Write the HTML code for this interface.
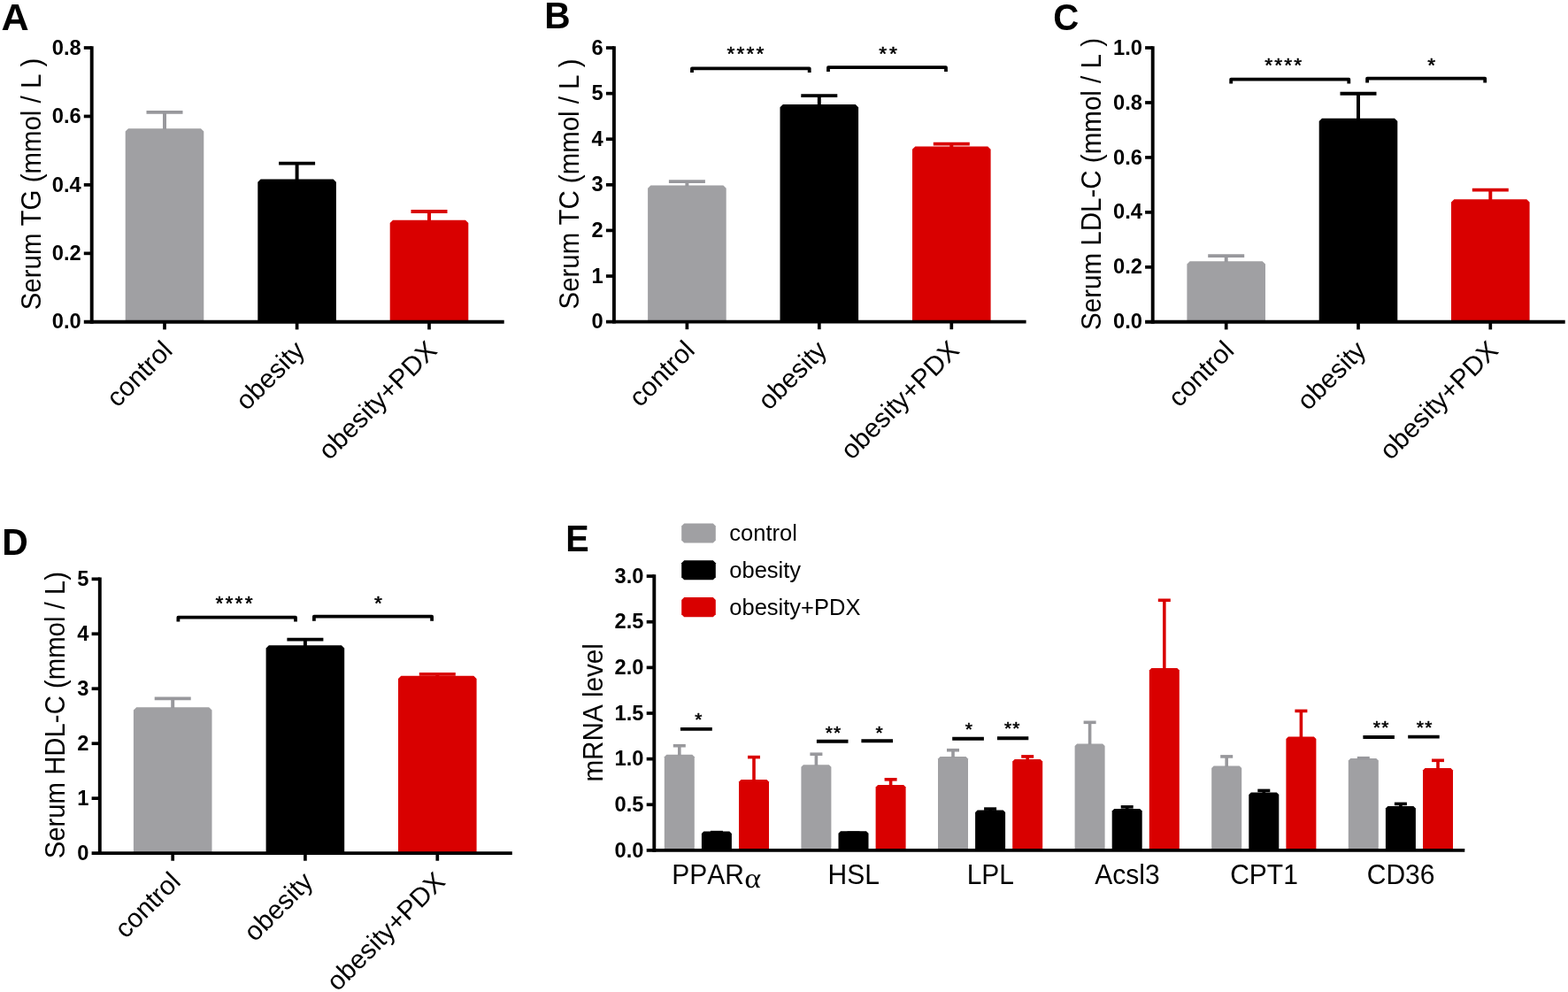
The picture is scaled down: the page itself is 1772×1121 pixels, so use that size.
<!DOCTYPE html>
<html><head><meta charset="utf-8"><title>Figure</title><style>html,body{margin:0;padding:0;background:#fff;overflow:hidden;}svg{display:block;}text{font-kerning:none;}</style></head><body>
<svg width="1772" height="1121" viewBox="0 0 1772 1121">
<rect width="1772" height="1121" fill="#fff"/>
<text transform="translate(1.4,34.4)" font-size="43.2" font-weight="bold" text-anchor="start" font-family="'Liberation Sans', Arial, Helvetica, sans-serif">A</text>
<text transform="translate(615.24,31.9) scale(0.96,1)" font-size="42.3" font-weight="bold" text-anchor="start" font-family="'Liberation Sans', Arial, Helvetica, sans-serif">B</text>
<text transform="translate(1190.19,34.3) scale(0.94,1)" font-size="42.8" font-weight="bold" text-anchor="start" font-family="'Liberation Sans', Arial, Helvetica, sans-serif">C</text>
<text transform="translate(2.33,627.1) scale(0.97,1)" font-size="42.2" font-weight="bold" text-anchor="start" font-family="'Liberation Sans', Arial, Helvetica, sans-serif">D</text>
<text transform="translate(639.23,622.5) scale(0.93,1)" font-size="42.6" font-weight="bold" text-anchor="start" font-family="'Liberation Sans', Arial, Helvetica, sans-serif">E</text>
<path d="M141.7,363.8 V148.5 L145,145.2 H227 L230.3,148.5 V363.8 Z" fill="#a0a0a3"/>
<line x1="186" y1="146.2" x2="186" y2="126.85" stroke="#98989c" stroke-width="3.95" stroke-linecap="butt"/>
<line x1="165.5" y1="126.85" x2="206.5" y2="126.85" stroke="#98989c" stroke-width="3.8" stroke-linecap="butt"/>
<path d="M291.3,363.8 V205.8 L294.6,202.5 H376.6 L379.9,205.8 V363.8 Z" fill="#000"/>
<line x1="335.6" y1="203.5" x2="335.6" y2="184.55" stroke="#000" stroke-width="3.95" stroke-linecap="butt"/>
<line x1="315.1" y1="184.55" x2="356.1" y2="184.55" stroke="#000" stroke-width="3.8" stroke-linecap="butt"/>
<path d="M440.7,363.8 V252 L444,248.7 H526 L529.3,252 V363.8 Z" fill="#d90000"/>
<line x1="485" y1="249.7" x2="485" y2="239" stroke="#d90000" stroke-width="3.95" stroke-linecap="butt"/>
<line x1="464.5" y1="239" x2="505.5" y2="239" stroke="#d90000" stroke-width="3.8" stroke-linecap="butt"/>
<line x1="103.7" y1="52.15" x2="103.7" y2="365.75" stroke="#000" stroke-width="3.9" stroke-linecap="butt"/>
<line x1="94.8" y1="363.8" x2="569.7" y2="363.8" stroke="#000" stroke-width="3.9" stroke-linecap="butt"/>
<text x="91.65" y="371.4" font-size="23.7" font-weight="bold" text-anchor="end" font-family="'Liberation Sans', Arial, Helvetica, sans-serif" >0.0</text>
<line x1="94.8" y1="286.35" x2="103.7" y2="286.35" stroke="#000" stroke-width="3.7" stroke-linecap="butt"/>
<text x="91.65" y="293.95" font-size="23.7" font-weight="bold" text-anchor="end" font-family="'Liberation Sans', Arial, Helvetica, sans-serif" >0.2</text>
<line x1="94.8" y1="208.9" x2="103.7" y2="208.9" stroke="#000" stroke-width="3.7" stroke-linecap="butt"/>
<text x="91.65" y="216.5" font-size="23.7" font-weight="bold" text-anchor="end" font-family="'Liberation Sans', Arial, Helvetica, sans-serif" >0.4</text>
<line x1="94.8" y1="131.45" x2="103.7" y2="131.45" stroke="#000" stroke-width="3.7" stroke-linecap="butt"/>
<text x="91.65" y="139.05" font-size="23.7" font-weight="bold" text-anchor="end" font-family="'Liberation Sans', Arial, Helvetica, sans-serif" >0.6</text>
<line x1="94.8" y1="54" x2="103.7" y2="54" stroke="#000" stroke-width="3.7" stroke-linecap="butt"/>
<text x="91.65" y="61.6" font-size="23.7" font-weight="bold" text-anchor="end" font-family="'Liberation Sans', Arial, Helvetica, sans-serif" >0.8</text>
<line x1="186" y1="363.8" x2="186" y2="372.4" stroke="#000" stroke-width="3.7" stroke-linecap="butt"/>
<line x1="335.6" y1="363.8" x2="335.6" y2="372.4" stroke="#000" stroke-width="3.7" stroke-linecap="butt"/>
<line x1="485" y1="363.8" x2="485" y2="372.4" stroke="#000" stroke-width="3.7" stroke-linecap="butt"/>
<text transform="translate(196.4,397.8) rotate(-45)" font-size="30" font-weight="normal" text-anchor="end" font-family="'Liberation Sans', Arial, Helvetica, sans-serif">control</text>
<text transform="translate(346,397.8) rotate(-45)" font-size="30" font-weight="normal" text-anchor="end" font-family="'Liberation Sans', Arial, Helvetica, sans-serif">obesity</text>
<text transform="translate(495.4,397.8) rotate(-45)" font-size="30" font-weight="normal" text-anchor="end" font-family="'Liberation Sans', Arial, Helvetica, sans-serif">obesity+PDX</text>
<text transform="translate(46.4,208) rotate(-90) scale(1,1.07)" font-size="29.45" font-weight="normal" text-anchor="middle" font-family="'Liberation Sans', Arial, Helvetica, sans-serif">Serum TG (mmol / L )</text>
<path d="M732.1,363.6 V212.8 L735.4,209.5 H817.4 L820.7,212.8 V363.6 Z" fill="#a0a0a3"/>
<line x1="776.4" y1="210.5" x2="776.4" y2="205.05" stroke="#98989c" stroke-width="3.95" stroke-linecap="butt"/>
<line x1="755.9" y1="205.05" x2="796.9" y2="205.05" stroke="#98989c" stroke-width="3.8" stroke-linecap="butt"/>
<path d="M881.5,363.6 V121.3 L884.8,118 H966.8 L970.1,121.3 V363.6 Z" fill="#000"/>
<line x1="925.8" y1="119" x2="925.8" y2="108.1" stroke="#000" stroke-width="3.95" stroke-linecap="butt"/>
<line x1="905.3" y1="108.1" x2="946.3" y2="108.1" stroke="#000" stroke-width="3.8" stroke-linecap="butt"/>
<path d="M1031,363.6 V168.8 L1034.3,165.5 H1116.3 L1119.6,168.8 V363.6 Z" fill="#d90000"/>
<line x1="1075.3" y1="166.5" x2="1075.3" y2="162.6" stroke="#d90000" stroke-width="3.95" stroke-linecap="butt"/>
<line x1="1054.8" y1="162.6" x2="1095.8" y2="162.6" stroke="#d90000" stroke-width="3.8" stroke-linecap="butt"/>
<line x1="693.9" y1="52.2" x2="693.9" y2="365.55" stroke="#000" stroke-width="3.9" stroke-linecap="butt"/>
<line x1="684.9" y1="363.6" x2="1159.6" y2="363.6" stroke="#000" stroke-width="3.9" stroke-linecap="butt"/>
<text x="681.75" y="371.2" font-size="23.7" font-weight="bold" text-anchor="end" font-family="'Liberation Sans', Arial, Helvetica, sans-serif" >0</text>
<line x1="684.9" y1="312.01" x2="693.9" y2="312.01" stroke="#000" stroke-width="3.7" stroke-linecap="butt"/>
<text x="681.75" y="319.61" font-size="23.7" font-weight="bold" text-anchor="end" font-family="'Liberation Sans', Arial, Helvetica, sans-serif" >1</text>
<line x1="684.9" y1="260.42" x2="693.9" y2="260.42" stroke="#000" stroke-width="3.7" stroke-linecap="butt"/>
<text x="681.75" y="268.02" font-size="23.7" font-weight="bold" text-anchor="end" font-family="'Liberation Sans', Arial, Helvetica, sans-serif" >2</text>
<line x1="684.9" y1="208.83" x2="693.9" y2="208.83" stroke="#000" stroke-width="3.7" stroke-linecap="butt"/>
<text x="681.75" y="216.43" font-size="23.7" font-weight="bold" text-anchor="end" font-family="'Liberation Sans', Arial, Helvetica, sans-serif" >3</text>
<line x1="684.9" y1="157.23" x2="693.9" y2="157.23" stroke="#000" stroke-width="3.7" stroke-linecap="butt"/>
<text x="681.75" y="164.83" font-size="23.7" font-weight="bold" text-anchor="end" font-family="'Liberation Sans', Arial, Helvetica, sans-serif" >4</text>
<line x1="684.9" y1="105.64" x2="693.9" y2="105.64" stroke="#000" stroke-width="3.7" stroke-linecap="butt"/>
<text x="681.75" y="113.24" font-size="23.7" font-weight="bold" text-anchor="end" font-family="'Liberation Sans', Arial, Helvetica, sans-serif" >5</text>
<line x1="684.9" y1="54.05" x2="693.9" y2="54.05" stroke="#000" stroke-width="3.7" stroke-linecap="butt"/>
<text x="681.75" y="61.65" font-size="23.7" font-weight="bold" text-anchor="end" font-family="'Liberation Sans', Arial, Helvetica, sans-serif" >6</text>
<line x1="776.4" y1="363.6" x2="776.4" y2="372.2" stroke="#000" stroke-width="3.7" stroke-linecap="butt"/>
<line x1="925.8" y1="363.6" x2="925.8" y2="372.2" stroke="#000" stroke-width="3.7" stroke-linecap="butt"/>
<line x1="1075.3" y1="363.6" x2="1075.3" y2="372.2" stroke="#000" stroke-width="3.7" stroke-linecap="butt"/>
<text transform="translate(786.8,397.6) rotate(-45)" font-size="30" font-weight="normal" text-anchor="end" font-family="'Liberation Sans', Arial, Helvetica, sans-serif">control</text>
<text transform="translate(936.2,397.6) rotate(-45)" font-size="30" font-weight="normal" text-anchor="end" font-family="'Liberation Sans', Arial, Helvetica, sans-serif">obesity</text>
<text transform="translate(1085.7,397.6) rotate(-45)" font-size="30" font-weight="normal" text-anchor="end" font-family="'Liberation Sans', Arial, Helvetica, sans-serif">obesity+PDX</text>
<text transform="translate(654.4,208) rotate(-90) scale(1,1.07)" font-size="29.45" font-weight="normal" text-anchor="middle" font-family="'Liberation Sans', Arial, Helvetica, sans-serif">Serum TC (mmol / L )</text>
<path d="M782,82.1 V77.35 H914.7 V82.1" fill="none" stroke="#000" stroke-width="3.8" stroke-linejoin="round"/>
<path d="M936,80.9 V76.15 H1069 V80.9" fill="none" stroke="#000" stroke-width="3.8" stroke-linejoin="round"/>
<text x="825.85" y="68.32" font-size="22.9" font-weight="normal" text-anchor="middle" font-family="'Liberation Sans', Arial, Helvetica, sans-serif" stroke="#000" stroke-width="0.55" stroke-linejoin="round">*</text>
<text x="836.92" y="68.32" font-size="22.9" font-weight="normal" text-anchor="middle" font-family="'Liberation Sans', Arial, Helvetica, sans-serif" stroke="#000" stroke-width="0.55" stroke-linejoin="round">*</text>
<text x="847.99" y="68.32" font-size="22.9" font-weight="normal" text-anchor="middle" font-family="'Liberation Sans', Arial, Helvetica, sans-serif" stroke="#000" stroke-width="0.55" stroke-linejoin="round">*</text>
<text x="859.06" y="68.32" font-size="22.9" font-weight="normal" text-anchor="middle" font-family="'Liberation Sans', Arial, Helvetica, sans-serif" stroke="#000" stroke-width="0.55" stroke-linejoin="round">*</text>
<text x="997.7" y="68.22" font-size="22.9" font-weight="normal" text-anchor="middle" font-family="'Liberation Sans', Arial, Helvetica, sans-serif" stroke="#000" stroke-width="0.55" stroke-linejoin="round">*</text>
<text x="1009.35" y="68.22" font-size="22.9" font-weight="normal" text-anchor="middle" font-family="'Liberation Sans', Arial, Helvetica, sans-serif" stroke="#000" stroke-width="0.55" stroke-linejoin="round">*</text>
<path d="M1341.4,363.8 V298.5 L1344.7,295.2 H1426.7 L1430,298.5 V363.8 Z" fill="#a0a0a3"/>
<line x1="1385.7" y1="296.2" x2="1385.7" y2="289.2" stroke="#98989c" stroke-width="3.95" stroke-linecap="butt"/>
<line x1="1365.2" y1="289.2" x2="1406.2" y2="289.2" stroke="#98989c" stroke-width="3.8" stroke-linecap="butt"/>
<path d="M1490.7,363.8 V137 L1494,133.7 H1576 L1579.3,137 V363.8 Z" fill="#000"/>
<line x1="1535" y1="134.7" x2="1535" y2="105.75" stroke="#000" stroke-width="3.95" stroke-linecap="butt"/>
<line x1="1514.5" y1="105.75" x2="1555.5" y2="105.75" stroke="#000" stroke-width="3.8" stroke-linecap="butt"/>
<path d="M1640,363.8 V228.5 L1643.3,225.2 H1725.3 L1728.6,228.5 V363.8 Z" fill="#d90000"/>
<line x1="1684.3" y1="226.2" x2="1684.3" y2="214.6" stroke="#d90000" stroke-width="3.95" stroke-linecap="butt"/>
<line x1="1663.8" y1="214.6" x2="1704.8" y2="214.6" stroke="#d90000" stroke-width="3.8" stroke-linecap="butt"/>
<line x1="1302.7" y1="52.15" x2="1302.7" y2="365.75" stroke="#000" stroke-width="3.9" stroke-linecap="butt"/>
<line x1="1294.1" y1="363.8" x2="1768.7" y2="363.8" stroke="#000" stroke-width="3.9" stroke-linecap="butt"/>
<text x="1290.95" y="371.4" font-size="23.7" font-weight="bold" text-anchor="end" font-family="'Liberation Sans', Arial, Helvetica, sans-serif" >0.0</text>
<line x1="1294.1" y1="301.84" x2="1302.7" y2="301.84" stroke="#000" stroke-width="3.7" stroke-linecap="butt"/>
<text x="1290.95" y="309.44" font-size="23.7" font-weight="bold" text-anchor="end" font-family="'Liberation Sans', Arial, Helvetica, sans-serif" >0.2</text>
<line x1="1294.1" y1="239.88" x2="1302.7" y2="239.88" stroke="#000" stroke-width="3.7" stroke-linecap="butt"/>
<text x="1290.95" y="247.48" font-size="23.7" font-weight="bold" text-anchor="end" font-family="'Liberation Sans', Arial, Helvetica, sans-serif" >0.4</text>
<line x1="1294.1" y1="177.92" x2="1302.7" y2="177.92" stroke="#000" stroke-width="3.7" stroke-linecap="butt"/>
<text x="1290.95" y="185.52" font-size="23.7" font-weight="bold" text-anchor="end" font-family="'Liberation Sans', Arial, Helvetica, sans-serif" >0.6</text>
<line x1="1294.1" y1="115.96" x2="1302.7" y2="115.96" stroke="#000" stroke-width="3.7" stroke-linecap="butt"/>
<text x="1290.95" y="123.56" font-size="23.7" font-weight="bold" text-anchor="end" font-family="'Liberation Sans', Arial, Helvetica, sans-serif" >0.8</text>
<line x1="1294.1" y1="54" x2="1302.7" y2="54" stroke="#000" stroke-width="3.7" stroke-linecap="butt"/>
<text x="1290.95" y="61.6" font-size="23.7" font-weight="bold" text-anchor="end" font-family="'Liberation Sans', Arial, Helvetica, sans-serif" >1.0</text>
<line x1="1385.7" y1="363.8" x2="1385.7" y2="372.4" stroke="#000" stroke-width="3.7" stroke-linecap="butt"/>
<line x1="1535" y1="363.8" x2="1535" y2="372.4" stroke="#000" stroke-width="3.7" stroke-linecap="butt"/>
<line x1="1684.3" y1="363.8" x2="1684.3" y2="372.4" stroke="#000" stroke-width="3.7" stroke-linecap="butt"/>
<text transform="translate(1396.1,397.8) rotate(-45)" font-size="30" font-weight="normal" text-anchor="end" font-family="'Liberation Sans', Arial, Helvetica, sans-serif">control</text>
<text transform="translate(1545.4,397.8) rotate(-45)" font-size="30" font-weight="normal" text-anchor="end" font-family="'Liberation Sans', Arial, Helvetica, sans-serif">obesity</text>
<text transform="translate(1694.7,397.8) rotate(-45)" font-size="30" font-weight="normal" text-anchor="end" font-family="'Liberation Sans', Arial, Helvetica, sans-serif">obesity+PDX</text>
<text transform="translate(1243.8,208) rotate(-90) scale(1,1.07)" font-size="29.55" font-weight="normal" text-anchor="middle" font-family="'Liberation Sans', Arial, Helvetica, sans-serif">Serum LDL-C (mmol / L )</text>
<path d="M1391.2,94.6 V89.6 H1524.3 V94.6" fill="none" stroke="#000" stroke-width="3.8" stroke-linejoin="round"/>
<path d="M1545.1,93.6 V88.55 H1678.2 V93.6" fill="none" stroke="#000" stroke-width="3.8" stroke-linejoin="round"/>
<text x="1433.6" y="80.92" font-size="22.9" font-weight="normal" text-anchor="middle" font-family="'Liberation Sans', Arial, Helvetica, sans-serif" stroke="#000" stroke-width="0.55" stroke-linejoin="round">*</text>
<text x="1444.67" y="80.92" font-size="22.9" font-weight="normal" text-anchor="middle" font-family="'Liberation Sans', Arial, Helvetica, sans-serif" stroke="#000" stroke-width="0.55" stroke-linejoin="round">*</text>
<text x="1455.74" y="80.92" font-size="22.9" font-weight="normal" text-anchor="middle" font-family="'Liberation Sans', Arial, Helvetica, sans-serif" stroke="#000" stroke-width="0.55" stroke-linejoin="round">*</text>
<text x="1466.81" y="80.92" font-size="22.9" font-weight="normal" text-anchor="middle" font-family="'Liberation Sans', Arial, Helvetica, sans-serif" stroke="#000" stroke-width="0.55" stroke-linejoin="round">*</text>
<text x="1617.8" y="80.62" font-size="22.9" font-weight="normal" text-anchor="middle" font-family="'Liberation Sans', Arial, Helvetica, sans-serif" stroke="#000" stroke-width="0.55" stroke-linejoin="round">*</text>
<path d="M150.9,964.1 V802.5 L154.2,799.2 H236.2 L239.5,802.5 V964.1 Z" fill="#a0a0a3"/>
<line x1="195.2" y1="800.2" x2="195.2" y2="789.3" stroke="#98989c" stroke-width="3.95" stroke-linecap="butt"/>
<line x1="174.7" y1="789.3" x2="215.7" y2="789.3" stroke="#98989c" stroke-width="3.8" stroke-linecap="butt"/>
<path d="M300.6,964.1 V732.6 L303.9,729.3 H385.9 L389.2,732.6 V964.1 Z" fill="#000"/>
<line x1="344.9" y1="730.3" x2="344.9" y2="722.7" stroke="#000" stroke-width="3.95" stroke-linecap="butt"/>
<line x1="324.4" y1="722.7" x2="365.4" y2="722.7" stroke="#000" stroke-width="3.8" stroke-linecap="butt"/>
<path d="M450,964.1 V767 L453.3,763.7 H535.3 L538.6,767 V964.1 Z" fill="#d90000"/>
<line x1="494.3" y1="764.7" x2="494.3" y2="761.9" stroke="#d90000" stroke-width="3.95" stroke-linecap="butt"/>
<line x1="473.8" y1="761.9" x2="514.8" y2="761.9" stroke="#d90000" stroke-width="3.8" stroke-linecap="butt"/>
<line x1="112.8" y1="652.5" x2="112.8" y2="966.05" stroke="#000" stroke-width="3.9" stroke-linecap="butt"/>
<line x1="103.6" y1="964.1" x2="578.8" y2="964.1" stroke="#000" stroke-width="3.9" stroke-linecap="butt"/>
<text x="100.45" y="971.7" font-size="23.7" font-weight="bold" text-anchor="end" font-family="'Liberation Sans', Arial, Helvetica, sans-serif" >0</text>
<line x1="103.6" y1="902.15" x2="112.8" y2="902.15" stroke="#000" stroke-width="3.7" stroke-linecap="butt"/>
<text x="100.45" y="909.75" font-size="23.7" font-weight="bold" text-anchor="end" font-family="'Liberation Sans', Arial, Helvetica, sans-serif" >1</text>
<line x1="103.6" y1="840.2" x2="112.8" y2="840.2" stroke="#000" stroke-width="3.7" stroke-linecap="butt"/>
<text x="100.45" y="847.8" font-size="23.7" font-weight="bold" text-anchor="end" font-family="'Liberation Sans', Arial, Helvetica, sans-serif" >2</text>
<line x1="103.6" y1="778.25" x2="112.8" y2="778.25" stroke="#000" stroke-width="3.7" stroke-linecap="butt"/>
<text x="100.45" y="785.85" font-size="23.7" font-weight="bold" text-anchor="end" font-family="'Liberation Sans', Arial, Helvetica, sans-serif" >3</text>
<line x1="103.6" y1="716.3" x2="112.8" y2="716.3" stroke="#000" stroke-width="3.7" stroke-linecap="butt"/>
<text x="100.45" y="723.9" font-size="23.7" font-weight="bold" text-anchor="end" font-family="'Liberation Sans', Arial, Helvetica, sans-serif" >4</text>
<line x1="103.6" y1="654.35" x2="112.8" y2="654.35" stroke="#000" stroke-width="3.7" stroke-linecap="butt"/>
<text x="100.45" y="661.95" font-size="23.7" font-weight="bold" text-anchor="end" font-family="'Liberation Sans', Arial, Helvetica, sans-serif" >5</text>
<line x1="195.2" y1="964.1" x2="195.2" y2="972.7" stroke="#000" stroke-width="3.7" stroke-linecap="butt"/>
<line x1="344.9" y1="964.1" x2="344.9" y2="972.7" stroke="#000" stroke-width="3.7" stroke-linecap="butt"/>
<line x1="494.3" y1="964.1" x2="494.3" y2="972.7" stroke="#000" stroke-width="3.7" stroke-linecap="butt"/>
<text transform="translate(205.6,998.1) rotate(-45)" font-size="30" font-weight="normal" text-anchor="end" font-family="'Liberation Sans', Arial, Helvetica, sans-serif">control</text>
<text transform="translate(355.3,998.1) rotate(-45)" font-size="30" font-weight="normal" text-anchor="end" font-family="'Liberation Sans', Arial, Helvetica, sans-serif">obesity</text>
<text transform="translate(504.7,998.1) rotate(-45)" font-size="30" font-weight="normal" text-anchor="end" font-family="'Liberation Sans', Arial, Helvetica, sans-serif">obesity+PDX</text>
<text transform="translate(72.6,808.2) rotate(-90) scale(1,1.07)" font-size="29.35" font-weight="normal" text-anchor="middle" font-family="'Liberation Sans', Arial, Helvetica, sans-serif">Serum HDL-C (mmol / L)</text>
<path d="M201.4,702.5 V697.7 H334 V702.5" fill="none" stroke="#000" stroke-width="3.8" stroke-linejoin="round"/>
<path d="M354.9,701.7 V696.65 H488.1 V701.7" fill="none" stroke="#000" stroke-width="3.8" stroke-linejoin="round"/>
<text x="247.95" y="689.32" font-size="22.9" font-weight="normal" text-anchor="middle" font-family="'Liberation Sans', Arial, Helvetica, sans-serif" stroke="#000" stroke-width="0.55" stroke-linejoin="round">*</text>
<text x="259.01" y="689.32" font-size="22.9" font-weight="normal" text-anchor="middle" font-family="'Liberation Sans', Arial, Helvetica, sans-serif" stroke="#000" stroke-width="0.55" stroke-linejoin="round">*</text>
<text x="270.07" y="689.32" font-size="22.9" font-weight="normal" text-anchor="middle" font-family="'Liberation Sans', Arial, Helvetica, sans-serif" stroke="#000" stroke-width="0.55" stroke-linejoin="round">*</text>
<text x="281.13" y="689.32" font-size="22.9" font-weight="normal" text-anchor="middle" font-family="'Liberation Sans', Arial, Helvetica, sans-serif" stroke="#000" stroke-width="0.55" stroke-linejoin="round">*</text>
<text x="427.5" y="688.82" font-size="22.9" font-weight="normal" text-anchor="middle" font-family="'Liberation Sans', Arial, Helvetica, sans-serif" stroke="#000" stroke-width="0.55" stroke-linejoin="round">*</text>
<text x="727.55" y="968.5" font-size="23.7" font-weight="bold" text-anchor="end" font-family="'Liberation Sans', Arial, Helvetica, sans-serif" >0.0</text>
<line x1="730.7" y1="909.27" x2="739.3" y2="909.27" stroke="#000" stroke-width="3.7" stroke-linecap="butt"/>
<text x="727.55" y="916.87" font-size="23.7" font-weight="bold" text-anchor="end" font-family="'Liberation Sans', Arial, Helvetica, sans-serif" >0.5</text>
<line x1="730.7" y1="857.63" x2="739.3" y2="857.63" stroke="#000" stroke-width="3.7" stroke-linecap="butt"/>
<text x="727.55" y="865.23" font-size="23.7" font-weight="bold" text-anchor="end" font-family="'Liberation Sans', Arial, Helvetica, sans-serif" >1.0</text>
<line x1="730.7" y1="806" x2="739.3" y2="806" stroke="#000" stroke-width="3.7" stroke-linecap="butt"/>
<text x="727.55" y="813.6" font-size="23.7" font-weight="bold" text-anchor="end" font-family="'Liberation Sans', Arial, Helvetica, sans-serif" >1.5</text>
<line x1="730.7" y1="754.37" x2="739.3" y2="754.37" stroke="#000" stroke-width="3.7" stroke-linecap="butt"/>
<text x="727.55" y="761.97" font-size="23.7" font-weight="bold" text-anchor="end" font-family="'Liberation Sans', Arial, Helvetica, sans-serif" >2.0</text>
<line x1="730.7" y1="702.73" x2="739.3" y2="702.73" stroke="#000" stroke-width="3.7" stroke-linecap="butt"/>
<text x="727.55" y="710.33" font-size="23.7" font-weight="bold" text-anchor="end" font-family="'Liberation Sans', Arial, Helvetica, sans-serif" >2.5</text>
<line x1="730.7" y1="651.1" x2="739.3" y2="651.1" stroke="#000" stroke-width="3.7" stroke-linecap="butt"/>
<text x="727.55" y="658.7" font-size="23.7" font-weight="bold" text-anchor="end" font-family="'Liberation Sans', Arial, Helvetica, sans-serif" >3.0</text>
<text transform="translate(681,805.35) rotate(-90) scale(1,1.07)" font-size="29.65" font-weight="normal" text-anchor="middle" font-family="'Liberation Sans', Arial, Helvetica, sans-serif">mRNA level</text>
<path d="M770.2,594.5 L773.2,591.5 H805.8 L808.8,594.5 V610.6 L805.8,613.6 H773.2 L770.2,610.6 Z" fill="#a0a0a3"/>
<text x="824.3" y="611.2" font-size="25.5" font-weight="normal" text-anchor="start" font-family="'Liberation Sans', Arial, Helvetica, sans-serif" >control</text>
<path d="M770.2,636.2 L773.2,633.2 H805.8 L808.8,636.2 V652.3 L805.8,655.3 H773.2 L770.2,652.3 Z" fill="#000"/>
<text x="824.3" y="652.5" font-size="25.5" font-weight="normal" text-anchor="start" font-family="'Liberation Sans', Arial, Helvetica, sans-serif" >obesity</text>
<path d="M770.2,678.1 L773.2,675.1 H805.8 L808.8,678.1 V694.2 L805.8,697.2 H773.2 L770.2,694.2 Z" fill="#d90000"/>
<text x="824.3" y="694.9" font-size="25.5" font-weight="normal" text-anchor="start" font-family="'Liberation Sans', Arial, Helvetica, sans-serif" >obesity+PDX</text>
<path d="M750.8,960.9 V855.3 L753.3,852.8 H782.3 L784.8,855.3 V960.9 Z" fill="#a0a0a3"/>
<line x1="767.8" y1="853.8" x2="767.8" y2="842.7" stroke="#98989c" stroke-width="3.6" stroke-linecap="butt"/>
<line x1="760.8" y1="842.7" x2="774.8" y2="842.7" stroke="#98989c" stroke-width="3.6" stroke-linecap="butt"/>
<path d="M792.9,960.9 V941.95 L795.4,939.45 H824.4 L826.9,941.95 V960.9 Z" fill="#000"/>
<line x1="802.9" y1="940.6" x2="816.9" y2="940.6" stroke="#000" stroke-width="3.6" stroke-linecap="butt"/>
<path d="M835,960.9 V883.5 L837.5,881 H866.5 L869,883.5 V960.9 Z" fill="#d90000"/>
<line x1="852" y1="882" x2="852" y2="855.6" stroke="#d90000" stroke-width="3.6" stroke-linecap="butt"/>
<line x1="845" y1="855.6" x2="859" y2="855.6" stroke="#d90000" stroke-width="3.6" stroke-linecap="butt"/>
<text transform="translate(759.3,999.4) scale(1,1.03)" font-size="30" font-weight="normal" text-anchor="start" font-family="'Liberation Sans', Arial, Helvetica, sans-serif">PPAR</text>
<text transform="translate(842.6,1003.3) scale(1.1,1) skewX(7)" font-size="32" font-style="italic" font-family="'Liberation Serif', 'Times New Roman', serif">α</text>
<path d="M905.4,960.9 V866.7 L907.9,864.2 H936.9 L939.4,866.7 V960.9 Z" fill="#a0a0a3"/>
<line x1="922.4" y1="865.2" x2="922.4" y2="852.2" stroke="#98989c" stroke-width="3.6" stroke-linecap="butt"/>
<line x1="915.4" y1="852.2" x2="929.4" y2="852.2" stroke="#98989c" stroke-width="3.6" stroke-linecap="butt"/>
<path d="M947.5,960.9 V941.7 L950,939.2 H979 L981.5,941.7 V960.9 Z" fill="#000"/>
<line x1="957.5" y1="941.2" x2="971.5" y2="941.2" stroke="#000" stroke-width="3.6" stroke-linecap="butt"/>
<path d="M989.6,960.9 V889.4 L992.1,886.9 H1021.1 L1023.6,889.4 V960.9 Z" fill="#d90000"/>
<line x1="1006.6" y1="887.9" x2="1006.6" y2="880.8" stroke="#d90000" stroke-width="3.6" stroke-linecap="butt"/>
<line x1="999.6" y1="880.8" x2="1013.6" y2="880.8" stroke="#d90000" stroke-width="3.6" stroke-linecap="butt"/>
<text transform="translate(964.7,999.4) scale(1,1.03)" font-size="30" font-weight="normal" text-anchor="middle" font-family="'Liberation Sans', Arial, Helvetica, sans-serif">HSL</text>
<path d="M1060,960.9 V857.5 L1062.5,855 H1091.5 L1094,857.5 V960.9 Z" fill="#a0a0a3"/>
<line x1="1077" y1="856" x2="1077" y2="847.7" stroke="#98989c" stroke-width="3.6" stroke-linecap="butt"/>
<line x1="1070" y1="847.7" x2="1084" y2="847.7" stroke="#98989c" stroke-width="3.6" stroke-linecap="butt"/>
<path d="M1102.1,960.9 V918.1 L1104.6,915.6 H1133.6 L1136.1,918.1 V960.9 Z" fill="#000"/>
<line x1="1119.1" y1="916.6" x2="1119.1" y2="914.1" stroke="#000" stroke-width="3.6" stroke-linecap="butt"/>
<line x1="1112.1" y1="914.1" x2="1126.1" y2="914.1" stroke="#000" stroke-width="3.6" stroke-linecap="butt"/>
<path d="M1144.2,960.9 V860.6 L1146.7,858.1 H1175.7 L1178.2,860.6 V960.9 Z" fill="#d90000"/>
<line x1="1161.2" y1="859.1" x2="1161.2" y2="854.9" stroke="#d90000" stroke-width="3.6" stroke-linecap="butt"/>
<line x1="1154.2" y1="854.9" x2="1168.2" y2="854.9" stroke="#d90000" stroke-width="3.6" stroke-linecap="butt"/>
<text transform="translate(1119.3,999.4) scale(1,1.03)" font-size="30" font-weight="normal" text-anchor="middle" font-family="'Liberation Sans', Arial, Helvetica, sans-serif">LPL</text>
<path d="M1214.6,960.9 V842.9 L1217.1,840.4 H1246.1 L1248.6,842.9 V960.9 Z" fill="#a0a0a3"/>
<line x1="1231.6" y1="841.4" x2="1231.6" y2="816.3" stroke="#98989c" stroke-width="3.6" stroke-linecap="butt"/>
<line x1="1224.6" y1="816.3" x2="1238.6" y2="816.3" stroke="#98989c" stroke-width="3.6" stroke-linecap="butt"/>
<path d="M1256.7,960.9 V916.5 L1259.2,914 H1288.2 L1290.7,916.5 V960.9 Z" fill="#000"/>
<line x1="1273.7" y1="915" x2="1273.7" y2="911.85" stroke="#000" stroke-width="3.6" stroke-linecap="butt"/>
<line x1="1266.7" y1="911.85" x2="1280.7" y2="911.85" stroke="#000" stroke-width="3.6" stroke-linecap="butt"/>
<path d="M1298.8,960.9 V757.5 L1301.3,755 H1330.3 L1332.8,757.5 V960.9 Z" fill="#d90000"/>
<line x1="1315.8" y1="756" x2="1315.8" y2="678.3" stroke="#d90000" stroke-width="3.6" stroke-linecap="butt"/>
<line x1="1308.8" y1="678.3" x2="1322.8" y2="678.3" stroke="#d90000" stroke-width="3.6" stroke-linecap="butt"/>
<text transform="translate(1273.9,999.4) scale(1,1.03)" font-size="30" font-weight="normal" text-anchor="middle" font-family="'Liberation Sans', Arial, Helvetica, sans-serif">Acsl3</text>
<path d="M1369.2,960.9 V868 L1371.7,865.5 H1400.7 L1403.2,868 V960.9 Z" fill="#a0a0a3"/>
<line x1="1386.2" y1="866.5" x2="1386.2" y2="854.9" stroke="#98989c" stroke-width="3.6" stroke-linecap="butt"/>
<line x1="1379.2" y1="854.9" x2="1393.2" y2="854.9" stroke="#98989c" stroke-width="3.6" stroke-linecap="butt"/>
<path d="M1411.3,960.9 V897.9 L1413.8,895.4 H1442.8 L1445.3,897.9 V960.9 Z" fill="#000"/>
<line x1="1428.3" y1="896.4" x2="1428.3" y2="893.4" stroke="#000" stroke-width="3.6" stroke-linecap="butt"/>
<line x1="1421.3" y1="893.4" x2="1435.3" y2="893.4" stroke="#000" stroke-width="3.6" stroke-linecap="butt"/>
<path d="M1453.4,960.9 V835 L1455.9,832.5 H1484.9 L1487.4,835 V960.9 Z" fill="#d90000"/>
<line x1="1470.4" y1="833.5" x2="1470.4" y2="803.4" stroke="#d90000" stroke-width="3.6" stroke-linecap="butt"/>
<line x1="1463.4" y1="803.4" x2="1477.4" y2="803.4" stroke="#d90000" stroke-width="3.6" stroke-linecap="butt"/>
<text transform="translate(1428.5,999.4) scale(1,1.03)" font-size="30" font-weight="normal" text-anchor="middle" font-family="'Liberation Sans', Arial, Helvetica, sans-serif">CPT1</text>
<path d="M1523.8,960.9 V859.5 L1526.3,857 H1555.3 L1557.8,859.5 V960.9 Z" fill="#a0a0a3"/>
<line x1="1533.8" y1="856.7" x2="1547.8" y2="856.7" stroke="#98989c" stroke-width="3.6" stroke-linecap="butt"/>
<path d="M1565.9,960.9 V913.4 L1568.4,910.9 H1597.4 L1599.9,913.4 V960.9 Z" fill="#000"/>
<line x1="1582.9" y1="911.9" x2="1582.9" y2="908.4" stroke="#000" stroke-width="3.6" stroke-linecap="butt"/>
<line x1="1575.9" y1="908.4" x2="1589.9" y2="908.4" stroke="#000" stroke-width="3.6" stroke-linecap="butt"/>
<path d="M1608,960.9 V870.4 L1610.5,867.9 H1639.5 L1642,870.4 V960.9 Z" fill="#d90000"/>
<line x1="1625" y1="868.9" x2="1625" y2="859.3" stroke="#d90000" stroke-width="3.6" stroke-linecap="butt"/>
<line x1="1618" y1="859.3" x2="1632" y2="859.3" stroke="#d90000" stroke-width="3.6" stroke-linecap="butt"/>
<text transform="translate(1583.1,999.4) scale(1,1.03)" font-size="30" font-weight="normal" text-anchor="middle" font-family="'Liberation Sans', Arial, Helvetica, sans-serif">CD36</text>
<line x1="739.3" y1="649.25" x2="739.3" y2="962.85" stroke="#000" stroke-width="3.9" stroke-linecap="butt"/>
<line x1="730.7" y1="960.9" x2="1655.3" y2="960.9" stroke="#000" stroke-width="3.9" stroke-linecap="butt"/>
<line x1="768.95" y1="823.9" x2="804.8" y2="823.9" stroke="#000" stroke-width="3.9" stroke-linecap="butt"/>
<line x1="922.9" y1="837.8" x2="958.5" y2="837.8" stroke="#000" stroke-width="3.9" stroke-linecap="butt"/>
<line x1="973.4" y1="837.25" x2="1009" y2="837.25" stroke="#000" stroke-width="3.9" stroke-linecap="butt"/>
<line x1="1076.2" y1="834.7" x2="1111.9" y2="834.7" stroke="#000" stroke-width="3.9" stroke-linecap="butt"/>
<line x1="1127" y1="834.2" x2="1162.3" y2="834.2" stroke="#000" stroke-width="3.9" stroke-linecap="butt"/>
<line x1="1540.4" y1="832.95" x2="1575.9" y2="832.95" stroke="#000" stroke-width="3.9" stroke-linecap="butt"/>
<line x1="1591.2" y1="832.6" x2="1626.7" y2="832.6" stroke="#000" stroke-width="3.9" stroke-linecap="butt"/>
<text x="789.35" y="819.88" font-size="21" font-weight="normal" text-anchor="middle" font-family="'Liberation Sans', Arial, Helvetica, sans-serif" stroke="#000" stroke-width="0.55" stroke-linejoin="round">*</text>
<text x="936.8" y="835.38" font-size="21" font-weight="normal" text-anchor="middle" font-family="'Liberation Sans', Arial, Helvetica, sans-serif" stroke="#000" stroke-width="0.55" stroke-linejoin="round">*</text>
<text x="946" y="835.38" font-size="21" font-weight="normal" text-anchor="middle" font-family="'Liberation Sans', Arial, Helvetica, sans-serif" stroke="#000" stroke-width="0.55" stroke-linejoin="round">*</text>
<text x="993.6" y="834.98" font-size="21" font-weight="normal" text-anchor="middle" font-family="'Liberation Sans', Arial, Helvetica, sans-serif" stroke="#000" stroke-width="0.55" stroke-linejoin="round">*</text>
<text x="1094.85" y="830.58" font-size="21" font-weight="normal" text-anchor="middle" font-family="'Liberation Sans', Arial, Helvetica, sans-serif" stroke="#000" stroke-width="0.55" stroke-linejoin="round">*</text>
<text x="1139" y="830.28" font-size="21" font-weight="normal" text-anchor="middle" font-family="'Liberation Sans', Arial, Helvetica, sans-serif" stroke="#000" stroke-width="0.55" stroke-linejoin="round">*</text>
<text x="1148.4" y="830.28" font-size="21" font-weight="normal" text-anchor="middle" font-family="'Liberation Sans', Arial, Helvetica, sans-serif" stroke="#000" stroke-width="0.55" stroke-linejoin="round">*</text>
<text x="1555.9" y="829.28" font-size="21" font-weight="normal" text-anchor="middle" font-family="'Liberation Sans', Arial, Helvetica, sans-serif" stroke="#000" stroke-width="0.55" stroke-linejoin="round">*</text>
<text x="1565.3" y="829.28" font-size="21" font-weight="normal" text-anchor="middle" font-family="'Liberation Sans', Arial, Helvetica, sans-serif" stroke="#000" stroke-width="0.55" stroke-linejoin="round">*</text>
<text x="1604.8" y="828.68" font-size="21" font-weight="normal" text-anchor="middle" font-family="'Liberation Sans', Arial, Helvetica, sans-serif" stroke="#000" stroke-width="0.55" stroke-linejoin="round">*</text>
<text x="1614.4" y="828.68" font-size="21" font-weight="normal" text-anchor="middle" font-family="'Liberation Sans', Arial, Helvetica, sans-serif" stroke="#000" stroke-width="0.55" stroke-linejoin="round">*</text>
</svg>
</body></html>
